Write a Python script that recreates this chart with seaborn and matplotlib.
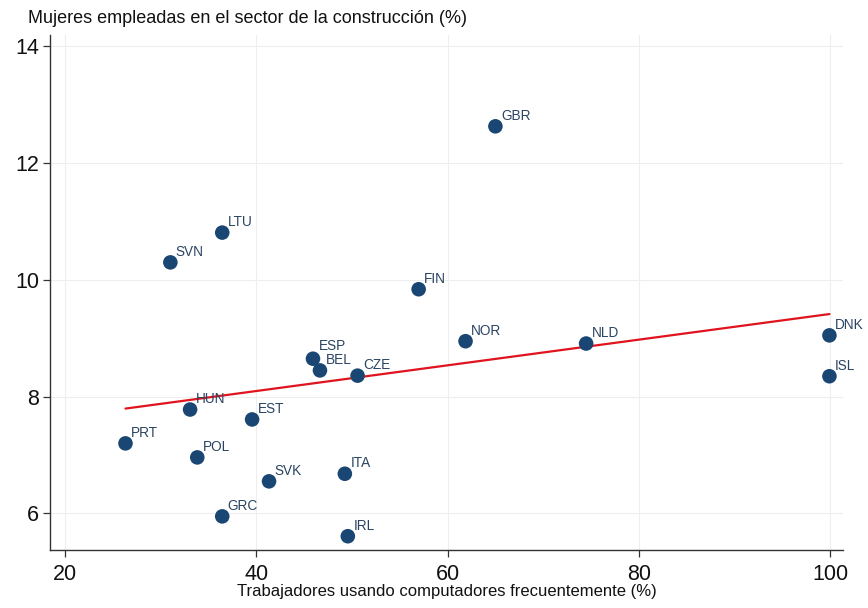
import numpy as np
import pandas as pd
import matplotlib
matplotlib.use("Agg")
import matplotlib.pyplot as plt
import seaborn as sns

countries = ["PRT", "HUN", "POL", "GRC", "SVN", "LTU", "EST", "SVK", "ESP", "BEL",
             "ITA", "IRL", "CZE", "FIN", "GBR", "NOR", "NLD", "DNK", "ISL"]
computer_use = [26.35, 33.1, 33.85, 36.46, 31.04, 36.46, 39.58, 41.35, 45.94, 46.67,
                49.27, 49.58, 50.6, 56.98, 65.0, 61.88, 74.48, 99.9, 99.9]
women_construction = [7.20, 7.78, 6.96, 5.95, 10.30, 10.81, 7.61, 6.55, 8.65, 8.45,
                      6.68, 5.61, 8.36, 9.84, 12.63, 8.95, 8.91, 9.05, 8.35]
x_ticks = [20, 40, 60, 80, 100]
y_ticks = [6, 8, 10, 12, 14]

df = pd.DataFrame({"pais": countries, "x": computer_use, "y": women_construction})

sns.set_theme(style="white")
plt.rcParams["font.family"] = ["Liberation Sans", "DejaVu Sans"]

fig = plt.figure(figsize=(8.68, 6.08), dpi=100)
ax = fig.add_axes([0.058, 0.095, 0.913, 0.848])

for v in x_ticks:
    ax.axvline(v, color="#eeeeee", lw=0.8, zorder=0)
for v in y_ticks:
    ax.axhline(v, color="#eeeeee", lw=0.8, zorder=0)

sns.scatterplot(data=df, x="x", y="y", ax=ax, color="#1a4673", s=110,
                edgecolor="none", zorder=3, legend=False)

slope, intercept = np.polyfit(df["x"], df["y"], 1)
xs = np.array([df["x"].min(), df["x"].max()])
sns.lineplot(x=xs, y=slope * xs + intercept, ax=ax, color="#e0141e", lw=1.6, zorder=2)

for _, r in df.iterrows():
    dy = 6.5 if r["pais"] == "ESP" else 4.5
    ax.annotate(r["pais"], (r["x"], r["y"]), xytext=(4, dy), textcoords="offset points",
                fontsize=9.8, color="#2b4462", zorder=4)

ax.set_xlim(18.5, 101.3)
ax.set_ylim(5.37, 14.2)
ax.set_xticks(x_ticks)
ax.set_yticks(y_ticks)
ax.tick_params(axis="both", labelsize=15.5, length=5, width=0.9, color="#333333",
               labelcolor="#111111", direction="out", bottom=True, left=True)
ax.tick_params(axis="x", pad=5)
ax.tick_params(axis="y", pad=3)
for s in ["top", "right"]:
    ax.spines[s].set_visible(False)
for s in ["left", "bottom"]:
    ax.spines[s].set_color("#333333")
    ax.spines[s].set_linewidth(1.0)

ax.set_xlabel("Trabajadores usando computadores frecuentemente (%)", fontsize=12,
              labelpad=-1, color="#111111")
ax.set_ylabel("")
fig.text(0.032, 0.962, "Mujeres empleadas en el sector de la construcción (%)", fontsize=13,
         ha="left", va="baseline", color="#111111")

fig.savefig("out.png", dpi=100)
